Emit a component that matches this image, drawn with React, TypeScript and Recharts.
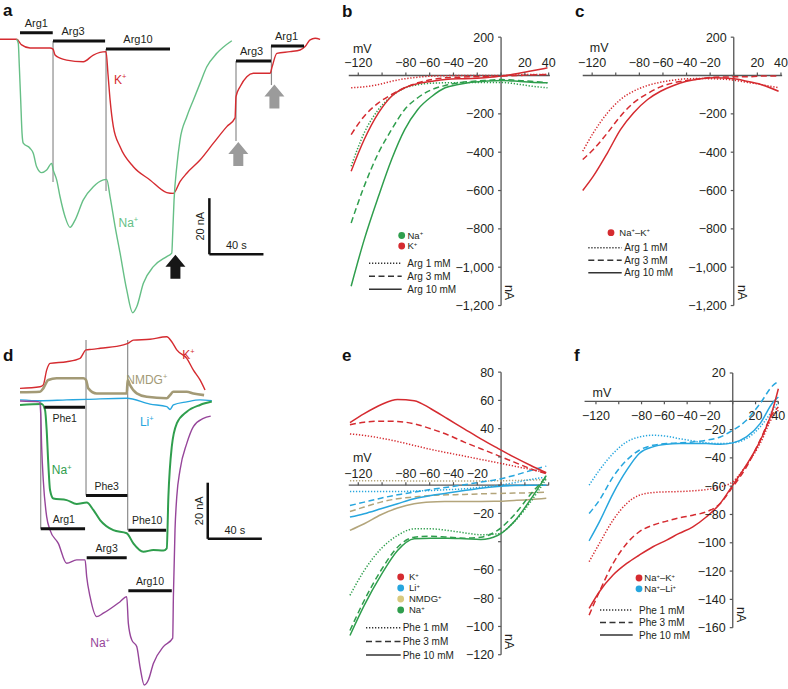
import React from 'react';
import { LineChart, Line, XAxis, YAxis, ReferenceLine, ReferenceDot } from 'recharts';

const FONT = '"Liberation Sans", Arial, Helvetica, sans-serif';
const INK = '#231f20';
const AXIS = '#555555';
const RED = '#d52b30';
const GREEN_A = '#66bf86';
const GREEN = '#2f9e4d';
const BLUE = '#27a6de';
const TAN = '#b3a57b';
const TAN_DOT = '#d9ca7e';
const OLIVE = '#a39a76';
const PURPLE = '#96459a';
const DOTTED = '1.3 1.7';
const DASHED = '6 3.5';

// ---- panel a: current traces (time in s, current in nA) ----
const kTraceA: [number, number][] = [
  [0, 0], [12.3, 0], [16, -2], [22.2, -3.1], [37, -3.1], [39.2, -3.5], [40.7, -5.6], [44.4, -6.7], [49.3, -7.4],
  [61.6, -8], [69, -5.6], [78.4, -4.4], [79.9, -12.7], [81.4, -21.6], [83.8, -31.1], [88.8, -38.3], [98.6, -45.4],
  [110.9, -50.1], [123.3, -54.6], [128.2, -54.9], [133.1, -50.7], [138.1, -47.7], [147.9, -43], [157.8, -37],
  [167.7, -31.1], [173.8, -28], [174.5, -20.4], [177.5, -16.9], [182.5, -13.3], [187.3, -12.1], [199.7, -12.1],
  [201.2, -9.8], [204.7, -5], [214.5, -4.4], [221.9, -3.8], [225.6, -2.6], [229.3, -0.2], [233, 0.4], [236.7, 0],
];
const naTraceA: [number, number][] = [
  [12.3, 0], [13.5, -1.4], [14.3, -9.8], [15.3, -21.6], [16.3, -33.5], [17.2, -37], [22.2, -38.8], [24.6, -40.6],
  [27.1, -45.4], [30.8, -47.5], [34.5, -46.6], [38.2, -44.2], [39.4, -46.6], [41.9, -50.1], [44.4, -56.1],
  [48.1, -63.2], [51.8, -67], [55.5, -64.4], [61.6, -57.2], [69, -52.5], [76.4, -50.1], [78.9, -49.9],
  [81.4, -56.1], [85.1, -66.7], [88.8, -76.2], [93.7, -89.3], [98.1, -97.4], [101.1, -95.3], [106, -86.9],
  [113.4, -81], [123.3, -77.4], [127, -76.2], [127.7, -69.1], [128.7, -57.2], [130.7, -45.4], [133.1, -35.9],
  [138.1, -27.6], [143, -21.6], [147.9, -15.7], [152.9, -9.8], [160.3, -5], [171.4, -0.5],
];
const barsA = [
  { label: 'Arg1', from: 14.8, to: 39, level: 2.35, dx: 0, below: false },
  { label: 'Arg3', from: 39.2, to: 77.7, level: -0.6, dx: -6, below: false },
  { label: 'Arg10', from: 78.4, to: 125.7, level: -3.5, dx: 0, below: false },
  { label: 'Arg3', from: 174.5, to: 200.4, level: -7.7, dx: -2, below: false },
  { label: 'Arg1', from: 200.4, to: 224.8, level: -2.4, dx: -1, below: false },
];
const washesA = [
  { t: 39.2, top: -0.6, bottom: -50.8 },
  { t: 78.4, top: -3.5, bottom: -54 },
  { t: 174.5, top: -7.7, bottom: -36.2 },
  { t: 200.7, top: -2.4, bottom: -16.3 },
];
const arrowsA = [
  { t: 129.7, i: -81, color: '#161616' },
  { t: 176.2, i: -40.9, color: '#9b9b9b' },
  { t: 202.9, i: -20.4, color: '#9b9b9b' },
];
const labelsA = [
  { text: 'K+', t: 88.8, i: -14.5, color: RED },
  { text: 'Na+', t: 94.9, i: -65.3, color: GREEN_A },
];

// ---- panel d: current traces ----
const kTraceD: [number, number][] = [
  [14.8, 3.9], [29.6, 4.5], [32, 5.1], [34.5, 10.4], [37, 12.8], [49.3, 13.4], [59.2, 14.6], [63.6, 17.6],
  [67.8, 17.8], [74, 18.2], [91.2, 19.4], [94.9, 20], [98.6, 21.1], [110.9, 21.4], [123.3, 22.3], [127, 20.5],
  [130.7, 17.6], [138.1, 14.6], [143, 10.4], [147.9, 6.9], [151.6, 3.3],
];
const nmdgTraceD: [number, number][] = [
  [14.8, 2.5], [29.6, 2.7], [32, 3.9], [35.7, 6.9], [41.9, 7.5], [61.6, 7.5], [63.6, 6.9], [65.3, 3.9],
  [71.5, 2.1], [93.7, 2.1], [94.4, 6.9], [96.1, 5.1], [101.1, 2.1], [108.5, 0.9], [123.3, 0.4], [125.7, 1.5],
  [128.2, 2.7], [138.1, 2.7], [143, 2.1], [150.9, 1.5],
];
const liTraceD: [number, number][] = [
  [14.8, -0.2], [29.6, -0.5], [49.3, -0.2], [64.1, 0], [93.7, 0.4], [110.9, -1.7], [123.3, -2.6],
  [125.7, -3.6], [128.2, -2], [138.1, -0.9], [147.9, -0.2], [156.6, -0.5],
];
const naPheTraceD: [number, number][] = [
  [14.8, -2], [30.8, -1.7], [33.3, -3.8], [34.5, -10.9], [35.7, -22.8], [37, -32.3], [39.4, -35.3], [49.3, -35.9],
  [56.7, -37.3], [64.1, -36.8], [69, -39.4], [74, -43], [83.8, -46.6], [93.7, -47.7], [98.6, -51.3], [106, -54.3],
  [113.4, -53.7], [120.8, -53.9], [123.3, -53.1], [124.5, -34.7], [127, -16.9], [130.7, -8.6], [138.1, -4.4],
  [147.9, -2], [156.6, -0.8],
];
const naArgTraceD: [number, number][] = [
  [14.8, -0.6], [29.1, -0.9], [30.1, -5], [30.8, -16.9], [32, -28.8], [34.5, -41.8], [37, -46.6], [43.1, -51.3],
  [49.3, -58.4], [56.7, -57.2], [62.9, -57.2], [64.1, -63.2], [66.6, -70.3], [71.5, -77.4], [76.4, -76.2],
  [88.8, -72.1], [93.7, -70.3], [94.9, -79.8], [97.4, -85.7], [101.1, -88.1], [103.5, -95.2], [106.7, -101.8],
  [109.7, -100], [113.4, -94.1], [120.8, -88.1], [127.7, -85.1], [128.2, -70.3], [129.4, -46.6], [130.7, -34.7],
  [133.1, -25.2], [138.1, -15.7], [143, -9.7], [150.4, -6.8], [155.8, -6],
];
const barsD = [
  { label: 'Phe1', from: 32.8, to: 62.9, level: -2.85, dx: 0, below: true },
  { label: 'Phe3', from: 63.6, to: 94.2, level: -34.3, dx: 0, below: false },
  { label: 'Phe10', from: 94.9, to: 122.8, level: -46.6, dx: 0, below: false },
  { label: 'Arg1', from: 30.1, to: 62.9, level: -46.1, dx: 1, below: false },
  { label: 'Arg3', from: 64.1, to: 93.7, level: -56.4, dx: 0, below: false },
  { label: 'Arg10', from: 94.9, to: 127, level: -68.2, dx: 0, below: false },
];
const washesD = [
  { t: 30.1, top: -0.6, bottom: -46.1 },
  { t: 63.6, top: 21.1, bottom: -34.3 },
  { t: 94.4, top: 21.1, bottom: -46.6 },
];
const labelsD = [
  { text: 'K+', t: 139.3, i: 15.8, color: RED },
  { text: 'NMDG+', t: 108.5, i: 6.9, color: OLIVE },
  { text: 'Li+', t: 108.5, i: -8, color: BLUE },
  { text: 'Na+', t: 45.6, i: -25.2, color: GREEN },
  { text: 'Na+', t: 74, i: -86.9, color: PURPLE },
];

// ---- I-V curves (mV, nA) ----
const vGridB = [-126, -115, -103, -92, -81, -70, -58, -47, -36, -25, -14, 0, 14, 25, 39];
const naArg10B = [-1099, -856, -630, -438, -282, -177, -108, -64, -47, -35, -30, -26, -30, -35, -38];
const naArg3B = [-769, -577, -403, -282, -177, -116, -73, -52, -38, -31, -26, -21, -26, -30, -38];
const naArg1B = [-473, -299, -177, -108, -66, -48, -40, -38, -37, -36, -36, -36, -45, -55, -64];
const kArg10B = [-499, -334, -195, -108, -64, -42, -30, -21, -17, -16, -12, -3, 10, 23, 40];
const kArg3B = [-308, -212, -143, -99, -64, -38, -21, -12, -9, -7, -7, -3, 0, 3, 5];
const kArg1B = [-64, -59, -47, -30, -17, -9, -3, -1, 0, 0, 0, 0, 3, 5, 5];

const vGridC = [-128, -119, -107, -96, -85, -73, -62, -51, -40, -28, -17, 0, 11, 23, 38];
const nakArg10C = [-600, -525, -403, -282, -195, -125, -82, -52, -30, -17, -12, -17, -30, -47, -82];
const nakArg3C = [-438, -386, -299, -212, -143, -94, -59, -38, -26, -17, -9, -7, -7, -3, -3];
const nakArg1C = [-395, -299, -195, -125, -82, -52, -35, -24, -17, -16, -17, -24, -35, -47, -64];

const vGridE = [-127, -115, -101, -87, -73, -59, -45, -31, -17, -3, 11, 25, 38];
const kPhe10E = [44.2, 50.6, 56.9, 60.7, 59.8, 54.1, 47, 39.9, 32.8, 26.2, 19.8, 13.9, 8.8];
const kPhe3E = [42.7, 44.6, 45.3, 45.1, 43.4, 39.9, 35.7, 30.5, 25.8, 21.1, 16.3, 11.6, 8.1];
const kPhe1E = [36.3, 35.2, 33.3, 30.9, 28.1, 25.3, 22.9, 20.6, 18.2, 15.9, 13.5, 11.1, 8.8];
const liPhe10E = [-22.6, -20.2, -16.7, -13.1, -9.6, -7.3, -5.6, -3.8, -2.1, -0.9, -0.2, 0, 0];
const liPhe3E = [-14.4, -12, -9.2, -6.8, -4.9, -3, -1.4, 0.3, 2.2, 4.1, 6.9, 10.4, 13.5];
const liPhe1E = [-4.5, -4.5, -4.5, -4.5, -4.2, -3.8, -3.2, -2.6, -1.5, -0.2, 1.7, 4.1, 5.7];
const nmdgPhe10E = [-32, -27.3, -20.9, -16.2, -13.1, -11.9, -11.6, -11.5, -11.5, -11.4, -10.8, -10.1, -9.2];
const nmdgPhe3E = [-18.6, -15.5, -12, -9.6, -8.4, -7.3, -6.8, -6.6, -6.1, -5.9, -5.6, -5.4, -4.9];
const nmdgPhe1E = [3.2, 3.2, 3.1, 3.1, 3, 3, 3, 3, 3, 3.1, 3.3, 3.6, 4];
const naPhe10E = [-106.4, -85.1, -63.9, -46.2, -37.9, -37.5, -37.5, -37.9, -38.4, -35.6, -25.8, -9.9, 6.8];
const naPhe3E = [-102.9, -81.6, -60.4, -43.9, -36.8, -36.1, -36.8, -37.5, -36.8, -32, -21.1, -6.3, 5.7];
const naPhe1E = [-78, -60.4, -45.1, -35.6, -30.9, -30.9, -32, -33.7, -35.1, -34.4, -26, -11.6, 4.5];

const vGridF = [-126, -117, -105, -93, -82, -70, -58, -47, -35, -23, -11, 0, 12, 24, 35, 40];
const naliPhe10F = [-98.6, -85.2, -65.2, -48.7, -36.9, -32.2, -30.4, -29.9, -29.9, -29.9, -30.4, -29.4, -25.2, -15.8, -1, 3];
const naliPhe3F = [-79.3, -69.9, -53.4, -41.6, -34.6, -31.1, -29.9, -29.4, -28.7, -27.5, -25.2, -20.5, -13.4, -1.6, 11, 14];
const naliPhe1F = [-59.3, -48.7, -36.9, -28.7, -25.2, -24, -24.7, -26.4, -28, -29.4, -29.9, -29.4, -26.4, -18.1, -6.4, -0.5];
const nakPhe10F = [-146.4, -134.6, -122.8, -114.6, -108.7, -102.8, -98.1, -93.4, -88.7, -81.6, -72.2, -59.3, -45, -28, -6, 8.9];
const nakPhe3F = [-151.1, -134.6, -114.6, -100.5, -92.2, -87.5, -84.7, -82.4, -80.5, -78.1, -72.2, -60.5, -46.4, -27.5, -8.7, -4];
const nakPhe1F = [-113.4, -100.5, -84, -72.2, -66.4, -64.5, -64, -63.8, -63.3, -62.4, -60.5, -56.9, -45.2, -29.9, -11.1, -6.4];

// axis ticks
const mvTicks = [-120, -100, -80, -60, -40, -20, 0, 20, 40];
const mvLabels = [-120, -80, -60, -40, -20, 20, 40];
const mvLabelsE = [-120, -80, -60, -40, -20];
const naTicksBC = [200, 0, -200, -400, -600, -800, -1000, -1200];
const naLabelsBC = [200, -200, -400, -600, -800, -1000, -1200];
const naTicksE = [80, 60, 40, 20, 0, -20, -40, -60, -80, -100, -120];
const naLabelsE = [80, 60, 40, -20, -60, -80, -100, -120];
const naTicksF = [20, 0, -20, -40, -60, -80, -100, -120, -140, -160];
const naLabelsF = [20, -20, -40, -60, -80, -100, -120, -140, -160];

const fmt = (n: number) => (n < 0 ? '\u2212' : '') + Math.abs(n).toLocaleString('en-US');

function IonText({ text, x, y, size, color, anchor }: any) {
  const parts = text.split(/(\+)/).filter((s: string) => s.length);
  let up = false;
  return (
    <text x={x} y={y} fontSize={size} fill={color} fontFamily={FONT} textAnchor={anchor || 'start'}>
      {parts.map((p: string, k: number) => {
        if (p === '+') {
          up = true;
          return <tspan key={k} dy={-size * 0.38} fontSize={size * 0.62}>+</tspan>;
        }
        const dy = up ? size * 0.38 : 0;
        up = false;
        return <tspan key={k} dy={dy}>{p}</tspan>;
      })}
    </text>
  );
}

const frameBox = (f: any) => ({
  left: f.x0 + f.xDom[0] * f.kx,
  top: f.y0 - f.yDom[1] * f.ky,
  width: (f.xDom[1] - f.xDom[0]) * f.kx,
  height: (f.yDom[1] - f.yDom[0]) * f.ky,
});

function TracePanel({ frame, traces, bars, washes, arrows, labels, scale, barFont }: any) {
  return (
    <div style={{ position: 'absolute', left: frame.left, top: frame.top }}>
      <LineChart width={frame.width} height={frame.height} margin={{ top: 0, right: 0, bottom: 0, left: 0 }}>
        <XAxis type="number" dataKey="t" domain={frame.t} hide allowDataOverflow />
        <YAxis type="number" dataKey="i" domain={frame.i} hide allowDataOverflow />
        {washes.map((w: any, k: number) => (
          <ReferenceLine key={'w' + k} segment={[{ x: w.t, y: w.top }, { x: w.t, y: w.bottom }]} stroke="#8c8c8c" strokeWidth={1.2} />
        ))}
        {traces.map((tr: any) => (
          <Line key={tr.id} data={tr.pts.map(([t, i]: number[]) => ({ t, i }))} dataKey="i" type="monotone"
            stroke={tr.color} strokeWidth={tr.width} dot={false} activeDot={false} isAnimationActive={false} />
        ))}
        {bars.map((b: any, k: number) => (
          <ReferenceLine key={'b' + k} segment={[{ x: b.from, y: b.level }, { x: b.to, y: b.level }]} stroke="#111" strokeWidth={3} />
        ))}
        {bars.map((b: any, k: number) => (
          <ReferenceDot key={'bl' + k} x={(b.from + b.to) / 2} y={b.level} r={1}
            shape={(p: any) => (
              <text x={p.cx + b.dx} y={b.below ? p.cy + 15 : p.cy - 6} textAnchor="middle" fontSize={barFont} fill={INK} fontFamily={FONT}>{b.label}</text>
            )} />
        ))}
        {arrows.map((a: any, k: number) => (
          <ReferenceDot key={'a' + k} x={a.t} y={a.i} r={1}
            shape={(p: any) => (
              <path d={`M${p.cx - 10},${p.cy} L${p.cx},${p.cy - 12} L${p.cx + 10},${p.cy} L${p.cx + 5},${p.cy} L${p.cx + 5},${p.cy + 12} L${p.cx - 5},${p.cy + 12} L${p.cx - 5},${p.cy} Z`} fill={a.color} />
            )} />
        ))}
        {labels.map((l: any, k: number) => (
          <ReferenceDot key={'l' + k} x={l.t} y={l.i} r={1}
            shape={(p: any) => <IonText text={l.text} x={p.cx} y={p.cy + 4} size={12} color={l.color} anchor="middle" />} />
        ))}
        <ReferenceLine segment={[{ x: scale.t, y: scale.i }, { x: scale.t, y: scale.i - scale.di }]} stroke="#111" strokeWidth={2.5} />
        <ReferenceLine segment={[{ x: scale.t, y: scale.i - scale.di }, { x: scale.t + scale.dt, y: scale.i - scale.di }]} stroke="#111" strokeWidth={2.5} />
        <ReferenceDot x={scale.t} y={scale.i - scale.di / 2} r={1}
          shape={(p: any) => (
            <text x={p.cx - 5} y={p.cy} transform={`rotate(-90 ${p.cx - 5} ${p.cy})`} textAnchor="middle" fontSize={11} fill={INK} fontFamily={FONT}>{scale.iLabel}</text>
          )} />
        <ReferenceDot x={scale.t + scale.dt / 2} y={scale.i - scale.di} r={1}
          shape={(p: any) => (
            <text x={p.cx} y={p.cy - 5} textAnchor="middle" fontSize={11} fill={INK} fontFamily={FONT}>{scale.tLabel}</text>
          )} />
      </LineChart>
    </div>
  );
}

function IVPanel({ frame, curves, ax }: any) {
  const box = frameBox(frame);
  const tickStyle = { fontSize: 12.5, fill: INK, fontFamily: FONT };
  return (
    <div style={{ position: 'absolute', left: box.left, top: box.top }}>
      <LineChart width={box.width} height={box.height} margin={{ top: 0, right: 0, bottom: 0, left: 0 }}>
        <XAxis type="number" dataKey="v" domain={frame.xDom} hide allowDataOverflow />
        <YAxis type="number" dataKey="i" domain={frame.yDom} hide allowDataOverflow />
        <ReferenceLine segment={[{ x: ax.xLine[0], y: 0 }, { x: ax.xLine[1], y: 0 }]} stroke={AXIS} strokeWidth={1.3} />
        <ReferenceLine segment={[{ x: 0, y: ax.yLine[0] }, { x: 0, y: ax.yLine[1] }]} stroke={AXIS} strokeWidth={1.3} />
        {mvTicks.map((v) => (
          <ReferenceDot key={'xt' + v} x={v} y={0} r={1}
            shape={(p: any) => (
              <g>
                <line x1={p.cx} x2={p.cx} y1={p.cy} y2={p.cy + (ax.below ? 3 : -3)} stroke={AXIS} strokeWidth={1.2} />
                {ax.xLabels.includes(v) && (
                  <text x={p.cx} y={ax.below ? p.cy + ax.xGap : p.cy - ax.xGap} textAnchor="middle" {...tickStyle}>{fmt(v)}</text>
                )}
              </g>
            )} />
        ))}
        {ax.yTicks.map((y: number) => (
          <ReferenceDot key={'yt' + y} x={0} y={y} r={1}
            shape={(p: any) => (
              <g>
                <line x1={p.cx - 3} x2={p.cx} y1={p.cy} y2={p.cy} stroke={AXIS} strokeWidth={1.2} />
                {ax.yLabels.includes(y) && (
                  <text x={p.cx - 7} y={p.cy + 4.5} textAnchor="end" {...tickStyle}>{fmt(y)}</text>
                )}
              </g>
            )} />
        ))}
        <ReferenceDot x={-120} y={0} r={1}
          shape={(p: any) => <text x={p.cx + ax.mv[0]} y={p.cy + ax.mv[1]} textAnchor="middle" {...tickStyle}>mV</text>} />
        <ReferenceDot x={0} y={ax.yLine[1]} r={1}
          shape={(p: any) => (
            <text x={p.cx + 4} y={p.cy - 13} transform={`rotate(90 ${p.cx + 4} ${p.cy - 13})`} textAnchor="middle" {...tickStyle}>nA</text>
          )} />
        {curves.map((c: any) => (
          <Line key={c.id} data={c.v.map((v: number, k: number) => ({ v, i: c.i[k] }))} dataKey="i" type="monotone"
            stroke={c.color} strokeWidth={1.5} strokeDasharray={c.dash} dot={false} activeDot={false} isAnimationActive={false} />
        ))}
      </LineChart>
    </div>
  );
}

function LegendBlock({ ions, doses, pos }: any) {
  return (
    <g>
      {ions.map((ion: any, k: number) => (
        <g key={'i' + k}>
          <circle cx={pos.dotX} cy={pos.dotY + k * pos.dotStep} r={3.4} fill={ion.color} />
          <IonText text={ion.text} x={pos.dotX + pos.dotText} y={pos.dotY + k * pos.dotStep + 3.4} size={9.5} color={INK} />
        </g>
      ))}
      {doses.map((d: any, k: number) => (
        <g key={'d' + k}>
          <line x1={pos.lineX[0]} x2={pos.lineX[1]} y1={pos.lineY + k * pos.lineStep} y2={pos.lineY + k * pos.lineStep}
            stroke="#333" strokeWidth={1.5} strokeDasharray={d.dash} />
          <text x={pos.lineText} y={pos.lineY + k * pos.lineStep + 3.6} fontSize={10} fill={INK} fontFamily={FONT}>{d.text}</text>
        </g>
      ))}
    </g>
  );
}

const argDoses = [
  { text: 'Arg 1 mM', dash: DOTTED },
  { text: 'Arg 3 mM', dash: DASHED },
  { text: 'Arg 10 mM', dash: undefined },
];
const pheDoses = [
  { text: 'Phe 1 mM', dash: DOTTED },
  { text: 'Phe 3 mM', dash: DASHED },
  { text: 'Phe 10 mM', dash: undefined },
];

const FRAME_A = { left: 0, top: 0, width: 330, height: 320, t: [0, 244], i: [-100, 14] };
const FRAME_D = { left: 0, top: 330, width: 330, height: 359, t: [0, 244], i: [-103.2, 24.7] };
const FRAME_B = { x0: 501, kx: 1.19, xDom: [-132, 48], y0: 76, ky: 0.1917, yDom: [-1300, 300] };
const FRAME_C = { x0: 733.3, kx: 1.18, xDom: [-132, 46], y0: 76, ky: 0.1917, yDom: [-1300, 300] };
const FRAME_E = { x0: 501, kx: 1.19, xDom: [-132, 48], y0: 485, ky: 1.413, yDom: [-130, 90] };
const FRAME_F = { x0: 733, kx: 1.14, xDom: [-134, 48], y0: 401, ky: 1.415, yDom: [-170, 32] };

const curve = (id: string, v: number[], i: number[], color: string, dash?: string) => ({ id, v, i, color, dash });

export default function App() {
  const letter = { fontSize: 17, fontWeight: 700, fill: '#111', fontFamily: FONT };
  return (
    <div style={{ position: 'absolute', left: 0, top: 0, width: 788, height: 689, background: '#fff', overflow: 'hidden' }}>
      <TracePanel
        frame={FRAME_A}
        traces={[
          { id: 'k', pts: kTraceA, color: RED, width: 1.4 },
          { id: 'na', pts: naTraceA, color: GREEN_A, width: 1.4 },
        ]}
        bars={barsA} washes={washesA} arrows={arrowsA} labels={labelsA} barFont={11}
        scale={{ t: 154.8, i: -56.6, di: 20, dt: 40, iLabel: '20 nA', tLabel: '40 s' }}
      />
      <IVPanel frame={FRAME_B}
        ax={{ xLine: [-128, 41], yLine: [200, -1200], yTicks: naTicksBC, yLabels: naLabelsBC, xLabels: mvLabels, xGap: 9, mv: [4, -23] }}
        curves={[
          curve('kArg1', vGridB, kArg1B, RED, DOTTED),
          curve('kArg3', vGridB, kArg3B, RED, DASHED),
          curve('naArg1', vGridB, naArg1B, GREEN, DOTTED),
          curve('kArg10', vGridB, kArg10B, RED),
          curve('naArg3', vGridB, naArg3B, GREEN, DASHED),
          curve('naArg10', vGridB, naArg10B, GREEN),
        ]} />
      <IVPanel frame={FRAME_C}
        ax={{ xLine: [-128, 41], yLine: [200, -1200], yTicks: naTicksBC, yLabels: naLabelsBC, xLabels: mvLabels, xGap: 9, mv: [7, -23.5] }}
        curves={[
          curve('nak1', vGridC, nakArg1C, RED, DOTTED),
          curve('nak3', vGridC, nakArg3C, RED, DASHED),
          curve('nak10', vGridC, nakArg10C, RED),
        ]} />
      <TracePanel
        frame={FRAME_D}
        traces={[
          { id: 'k', pts: kTraceD, color: RED, width: 1.4 },
          { id: 'nmdg', pts: nmdgTraceD, color: OLIVE, width: 2.6 },
          { id: 'li', pts: liTraceD, color: BLUE, width: 1.4 },
          { id: 'naPhe', pts: naPheTraceD, color: GREEN, width: 2 },
          { id: 'naArg', pts: naArgTraceD, color: PURPLE, width: 1.4 },
        ]}
        bars={barsD} washes={washesD} arrows={[]} labels={labelsD} barFont={10.5}
        scale={{ t: 153.6, i: -29.7, di: 20, dt: 40, iLabel: '20 nA', tLabel: '40 s' }}
      />
      <IVPanel frame={FRAME_E}
        ax={{ xLine: [-128, 40], yLine: [80, -120], yTicks: naTicksE, yLabels: naLabelsE, xLabels: mvLabelsE, xGap: 7, mv: [4, -23] }}
        curves={[
          curve('nmdg1', vGridE, nmdgPhe1E, TAN, DOTTED),
          curve('nmdg3', vGridE, nmdgPhe3E, TAN, DASHED),
          curve('nmdg10', vGridE, nmdgPhe10E, TAN),
          curve('li1', vGridE, liPhe1E, BLUE, DOTTED),
          curve('li3', vGridE, liPhe3E, BLUE, DASHED),
          curve('li10', vGridE, liPhe10E, BLUE),
          curve('k1', vGridE, kPhe1E, RED, DOTTED),
          curve('k3', vGridE, kPhe3E, RED, DASHED),
          curve('k10', vGridE, kPhe10E, RED),
          curve('na1', vGridE, naPhe1E, GREEN, DOTTED),
          curve('na3', vGridE, naPhe3E, GREEN, DASHED),
          curve('na10', vGridE, naPhe10E, GREEN),
        ]} />
      <IVPanel frame={FRAME_F}
        ax={{ xLine: [-130, 40], yLine: [20, -160], yTicks: naTicksF, yLabels: naLabelsF, xLabels: mvLabels, xGap: 19, below: true, mv: [6, -4] }}
        curves={[
          curve('nali1', vGridF, naliPhe1F, BLUE, DOTTED),
          curve('nali3', vGridF, naliPhe3F, BLUE, DASHED),
          curve('nali10', vGridF, naliPhe10F, BLUE),
          curve('nak1', vGridF, nakPhe1F, RED, DOTTED),
          curve('nak3', vGridF, nakPhe3F, RED, DASHED),
          curve('nak10', vGridF, nakPhe10F, RED),
        ]} />
      <svg width={788} height={689} style={{ position: 'absolute', left: 0, top: 0, pointerEvents: 'none' }}>
        <text x={3} y={16} {...letter}>a</text>
        <text x={342} y={17} {...letter}>b</text>
        <text x={575} y={17} {...letter}>c</text>
        <text x={3} y={361} {...letter}>d</text>
        <text x={342} y={361} {...letter}>e</text>
        <text x={574} y={361} {...letter}>f</text>
        <LegendBlock
          ions={[{ text: 'Na+', color: GREEN }, { text: 'K+', color: RED }]}
          doses={argDoses}
          pos={{ dotX: 401.7, dotY: 235.5, dotStep: 10.5, dotText: 5.8, lineX: [369, 401.7], lineY: 263.3, lineStep: 13, lineText: 407.3 }} />
        <LegendBlock
          ions={[{ text: 'Na+\u2013K+', color: RED }]}
          doses={argDoses}
          pos={{ dotX: 611, dotY: 232.7, dotStep: 10, dotText: 8.3, lineX: [588.3, 621.7], lineY: 247.7, lineStep: 12.5, lineText: 624.3 }} />
        <LegendBlock
          ions={[{ text: 'K+', color: RED }, { text: 'Li+', color: BLUE }, { text: 'NMDG+', color: TAN_DOT }, { text: 'Na+', color: GREEN }]}
          doses={pheDoses}
          pos={{ dotX: 400.7, dotY: 577, dotStep: 11, dotText: 8.3, lineX: [366, 400.7], lineY: 627.7, lineStep: 13.7, lineText: 402.7 }} />
        <LegendBlock
          ions={[{ text: 'Na+\u2013K+', color: RED }, { text: 'Na+\u2013Li+', color: BLUE }]}
          doses={pheDoses}
          pos={{ dotX: 639, dotY: 578, dotStep: 10.8, dotText: 5.3, lineX: [600, 632.7], lineY: 610, lineStep: 12.5, lineText: 639 }} />
      </svg>
    </div>
  );
}
